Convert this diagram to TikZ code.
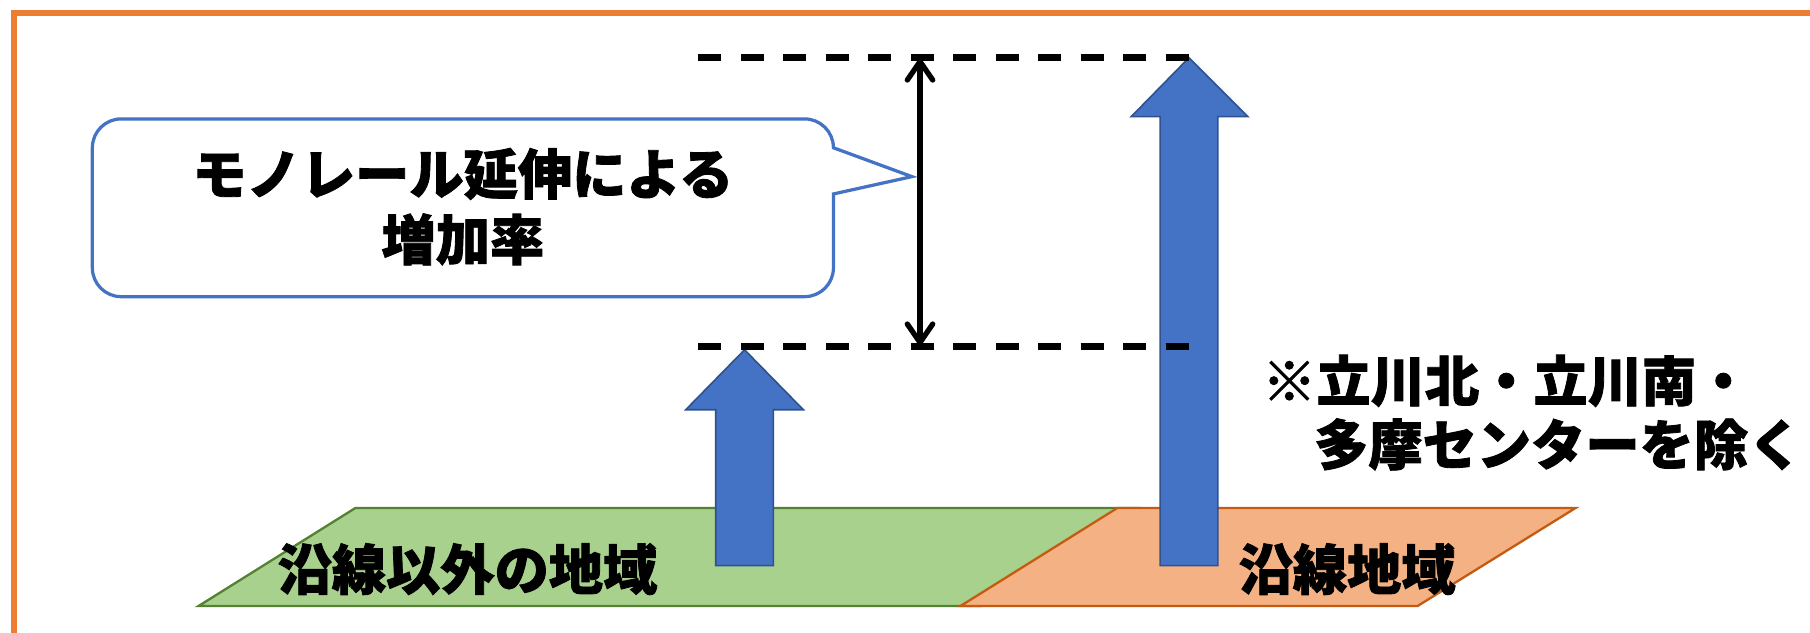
\documentclass[tikz,border=0pt]{standalone}
\usepackage{fontspec}
\setmainfont{Noto Sans CJK JP}[BoldFeatures={FakeBold=1.5}]
\usetikzlibrary{arrows.meta}
\definecolor{blueF}{HTML}{4472C4}
\definecolor{blueD}{HTML}{2F528F}
\definecolor{greenF}{HTML}{A9D18E}
\definecolor{greenD}{HTML}{548235}
\definecolor{orangeF}{HTML}{F4B183}
\definecolor{orangeD}{HTML}{C55A11}
\definecolor{frameC}{HTML}{ED7D31}
\tikzset{
  bigtxt/.style={font=\fontsize{23.5}{28.5}\selectfont\bfseries, inner sep=0pt, text=black},
  uparrow/.style={fill=blueF, draw=blueD, line width=0.7pt, line join=miter},
  levelline/.style={draw=black, line width=3pt, dash pattern=on 10pt off 8.4pt},
  callout/.style={draw=blueF, line width=1.4pt, fill=white},
  measure/.style={draw=black, line width=2.3pt, {Straight Barb[length=8pt,width=11pt,round,line width=2.3pt]}-{Straight Barb[length=8pt,width=11pt,round,line width=2.3pt]}}
}
\begin{document}
\begin{tikzpicture}[x=0.5pt, y=-0.5pt]
\useasboundingbox (0,0) rectangle (1568,548);
\fill[white] (0,0) rectangle (1568,548);
% frame
\draw[frameC, line width=2.5pt] (12,560) -- (12,11) -- (1580,11);
% ground areas
\draw[fill=greenF, draw=greenD, line width=1pt] (172,525) -- (308,440) -- (985,440) -- (850,525) -- cycle;
\draw[fill=orangeF, draw=orangeD, line width=1pt] (832,525) -- (968,440) -- (1365,440) -- (1228,525) -- cycle;
% arrows
\draw[uparrow] (620,490) -- (620,355) -- (594,355) -- (645,303) -- (696,355) -- (670,355) -- (670,490) -- cycle;
\draw[uparrow] (1005,490) -- (1005,101) -- (980,101) -- (1030,50) -- (1081,101) -- (1055,101) -- (1055,490) -- cycle;
% labels
\node[bigtxt] (outside) at (405,493) {沿線以外の地域};
\node[bigtxt] (along) at (1167,493) {沿線地域};
\node[bigtxt, anchor=west] (note1) at (1093,330) {※立川北・立川南・};
\node[bigtxt, anchor=west] (note2) at (1138,385) {多摩センターを除く};
% level lines
\coordinate (topL) at (605,50);
\coordinate (topR) at (1030,50);
\coordinate (botL) at (605,300);
\coordinate (botR) at (1030,300);
\draw[levelline] (topL) -- (topR);
\draw[levelline] (botL) -- (botR);
\coordinate (mtop) at (797,51);
\coordinate (mbot) at (797,299);
\draw[measure] (mtop) -- (mbot);
% callout
\draw[callout] (105,103) -- (697,103) .. controls (710.8,103) and (722,114.2) .. (722,128)
  -- (790,153) -- (722,168) -- (722,232) .. controls (722,245.8) and (710.8,257) .. (697,257)
  -- (105,257) .. controls (91.2,257) and (80,245.8) .. (80,232)
  -- (80,128) .. controls (80,114.2) and (91.2,103) .. (105,103) -- cycle;
\node[bigtxt, align=center] (calltext) at (401,179) {モノレール延伸による\\増加率};
\end{tikzpicture}
\end{document}
